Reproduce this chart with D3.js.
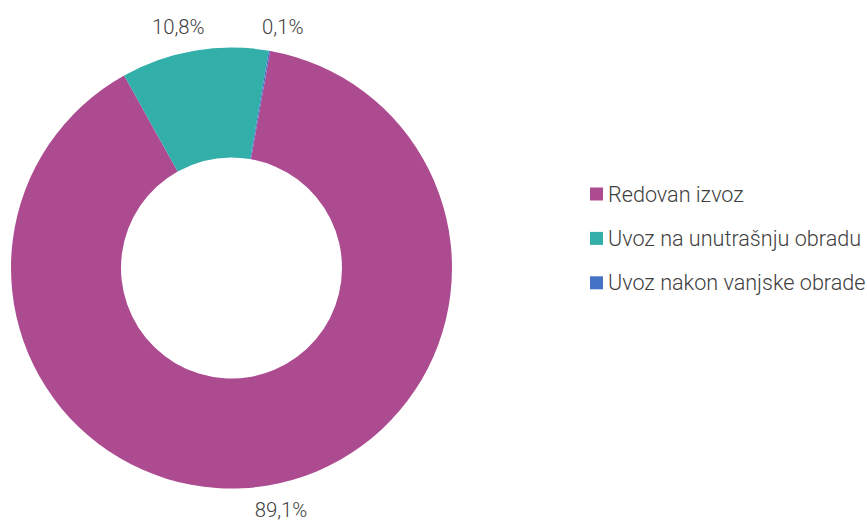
<!DOCTYPE html>
<html>
<head>
<meta charset="utf-8">
<script src="https://cdn.jsdelivr.net/npm/d3@7"></script>
<style>
  body { margin: 0; background: #fff; }
  text { font-family: Roboto, sans-serif; font-weight: 300; fill: #404040; }
</style>
</head>
<body>
<svg id="chart"></svg>
<script>
// Data
const categories = ["Redovan izvoz", "Uvoz na unutrašnju obradu", "Uvoz nakon vanjske obrade"];
const values = [89.1, 10.8, 0.1];
const labels = ["89,1%", "10,8%", "0,1%"];
const colors = ["#AD4B91", "#33AFAA", "#4472C4"];

const width = 867, height = 521;
const cx = 231.5, cy = 268;
const outerR = 220.5, innerR = 110.5;
const startAngle = 10.1 * Math.PI / 180;

const svg = d3.select("#chart")
    .attr("width", width)
    .attr("height", height);

const g = svg.append("g")
    .attr("transform", "translate(" + cx + "," + cy + ")");

const pie = d3.pie()
    .sort(null)
    .value(d => d)
    .startAngle(startAngle)
    .endAngle(startAngle + 2 * Math.PI);

const arcs = pie(values);

const arc = d3.arc()
    .innerRadius(innerR)
    .outerRadius(outerR);

g.selectAll(".slice")
    .data(arcs)
    .enter()
    .append("path")
    .attr("class", "slice")
    .attr("d", arc)
    .attr("fill", (d, i) => colors[i]);

// Labels outside the ring
const labelR = 245;
g.selectAll(".label")
    .data(arcs)
    .enter()
    .append("text")
    .attr("class", "label")
    .attr("x", d => {
        const a = (d.startAngle + d.endAngle) / 2;
        const s = Math.sin(a);
        return labelR * s + (s >= 0 ? 9 : -12);
    })
    .attr("y", d => -labelR * Math.cos((d.startAngle + d.endAngle) / 2))
    .attr("dy", "0.35em")
    .attr("text-anchor", "middle")
    .style("font-size", "20.3px")
    .text((d, i) => labels[i]);

// Legend
const legend = svg.append("g")
    .attr("transform", "translate(590,194)");

const rows = legend.selectAll(".row")
    .data(categories)
    .enter()
    .append("g")
    .attr("class", "row")
    .attr("transform", (d, i) => "translate(0," + i * 44.4 + ")");

rows.append("rect")
    .attr("x", 0)
    .attr("y", -6.5)
    .attr("width", 13)
    .attr("height", 13)
    .attr("fill", (d, i) => colors[i]);

rows.append("text")
    .attr("x", 18)
    .attr("y", 0)
    .attr("dy", "0.35em")
    .style("font-size", "21.6px")
    .text(d => d);
</script>
</body>
</html>
